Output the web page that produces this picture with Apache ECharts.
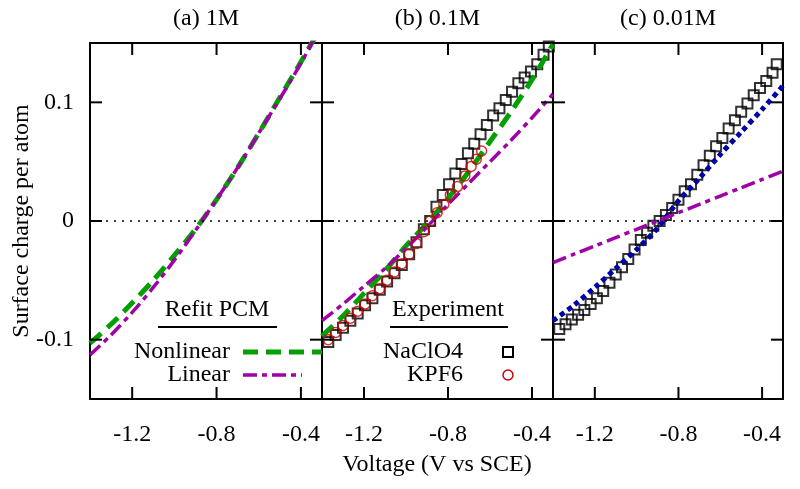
<!DOCTYPE html>
<html>
<head>
<meta charset="utf-8">
<script src="https://cdn.jsdelivr.net/npm/echarts@6/dist/echarts.min.js"></script>
<style>
  html, body { margin: 0; padding: 0; background: #fff; }
  #chart { width: 800px; height: 489px; }
</style>
</head>
<body>
<div id="chart"></div>
<script>
// panel titles and shared axis ticks
var panelTitles = ['(a) 1M', '(b) 0.1M', '(c) 0.01M'];
var xTicks = [-1.2, -0.8, -0.4];
var yTicks = [-0.1, 0, 0.1];
var xMin = -1.4, xMax = -0.3, yMin = -0.15, yMax = 0.15;

// model curves (voltage, charge)
var volts = [-1.4, -1.3, -1.2, -1.1, -1.0, -0.9, -0.8, -0.7, -0.6, -0.5, -0.4, -0.3];
var nonlinA = [-0.103, -0.087, -0.069, -0.050, -0.029, -0.007, 0.018, 0.045, 0.074, 0.104, 0.134, 0.165];
var linA    = [-0.113, -0.096, -0.077, -0.056, -0.033, -0.008, 0.018, 0.045, 0.074, 0.103, 0.133, 0.166];
var nonlinB = [-0.097, -0.080, -0.061, -0.042, -0.021, -0.002, 0.019, 0.042, 0.067, 0.092, 0.119, 0.149];
var linB    = [-0.084, -0.070, -0.055, -0.040, -0.023, -0.005, 0.014, 0.032, 0.050, 0.068, 0.087, 0.107];
var nonlinC = [-0.084, -0.071, -0.056, -0.040, -0.024, -0.006, 0.017, 0.036, 0.056, 0.075, 0.094, 0.114];
var linC    = [-0.035, -0.028, -0.021, -0.014, -0.007, 0.000, 0.007, 0.014, 0.021, 0.028, 0.035, 0.042];

// experiment, 0.1M NaClO4
var naB_v = [-1.37, -1.335, -1.30, -1.265, -1.23, -1.195, -1.16, -1.125, -1.09, -1.055, -1.02, -0.985,
             -0.95, -0.915, -0.885, -0.855, -0.825, -0.795, -0.765, -0.735, -0.705, -0.675, -0.645,
             -0.615, -0.585, -0.555, -0.525, -0.495, -0.465, -0.435, -0.405, -0.375, -0.345, -0.32];
var naB_q = [-0.102, -0.096, -0.090, -0.084, -0.078, -0.071, -0.065, -0.058, -0.051, -0.044, -0.037, -0.028,
             -0.018, -0.007, 0.000, 0.012, 0.022, 0.031, 0.040, 0.048, 0.057, 0.065, 0.073,
             0.081, 0.089, 0.095, 0.102, 0.109, 0.116, 0.121, 0.126, 0.132, 0.140, 0.147];
// experiment, 0.1M KPF6
var kB_v = [-1.37, -1.335, -1.30, -1.265, -1.23, -1.195, -1.16, -1.125, -1.09, -1.055, -1.02, -0.985,
            -0.95, -0.915, -0.885, -0.852, -0.82, -0.789, -0.755, -0.72, -0.69, -0.665, -0.64];
var kB_q = [-0.100, -0.094, -0.088, -0.082, -0.076, -0.070, -0.063, -0.057, -0.050, -0.043, -0.036, -0.028,
            -0.019, -0.009, 0.000, 0.007, 0.014, 0.022, 0.029, 0.038, 0.046, 0.052, 0.059];
// experiment, 0.01M NaClO4
var naC_v = [-1.37, -1.34, -1.31, -1.28, -1.25, -1.22, -1.19, -1.16, -1.13, -1.10, -1.07, -1.04, -1.01,
             -0.98, -0.95, -0.92, -0.89, -0.86, -0.83, -0.80, -0.77, -0.74, -0.71, -0.68, -0.65, -0.62,
             -0.59, -0.56, -0.53, -0.50, -0.47, -0.44, -0.41, -0.38, -0.35, -0.33];
var naC_q = [-0.091, -0.087, -0.083, -0.079, -0.075, -0.070, -0.065, -0.059, -0.052, -0.045, -0.039, -0.032, -0.024,
             -0.016, -0.010, -0.004, 0.000, 0.005, 0.011, 0.018, 0.025, 0.031, 0.039, 0.047, 0.055, 0.063,
             0.070, 0.078, 0.085, 0.092, 0.099, 0.106, 0.112, 0.118, 0.125, 0.132];

var GREEN = '#00a000', PURPLE = '#a000a8', BLUE = '#0000a8', RED = '#cc0000';
var FONT = 'Liberation Serif';
var FS = 24;
var TICK = 12; // tick length, px

function pairs(xs, ys) {
    return xs.map(function (x, i) { return [x, ys[i]]; });
}

var grids = [
    {left: 90, top: 43, width: 232, height: 356},
    {left: 322, top: 43, width: 231, height: 356},
    {left: 553, top: 43, width: 230, height: 356}
];

function axLine() { return {show: true, onZero: false, lineStyle: {color: '#000', width: 2}}; }

var xAxes = [], yAxes = [];
grids.forEach(function (g, i) {
    xAxes.push({
        type: 'value', gridIndex: i, position: 'bottom', min: xMin, max: xMax,
        axisLine: axLine(), axisTick: {show: false}, splitLine: {show: false},
        axisLabel: {customValues: xTicks, margin: 24, color: '#000', fontFamily: FONT, fontSize: FS}
    });
    xAxes.push({
        type: 'value', gridIndex: i, position: 'top', min: xMin, max: xMax,
        axisLine: axLine(), axisTick: {show: false}, splitLine: {show: false}, axisLabel: {show: false}
    });
    yAxes.push({
        type: 'value', gridIndex: i, position: 'left', min: yMin, max: yMax,
        axisLine: axLine(), axisTick: {show: false}, splitLine: {show: false},
        axisLabel: {show: i === 0, customValues: yTicks, margin: 16, color: '#000', fontFamily: FONT, fontSize: FS}
    });
    yAxes.push({
        type: 'value', gridIndex: i, position: 'right', min: yMin, max: yMax,
        axisLine: axLine(), axisTick: {show: false}, splitLine: {show: false}, axisLabel: {show: false}
    });
});

// inward tick marks on all four sides, as short line series on the panel's own scales
function tickSeries(gi) {
    var g = grids[gi];
    var dx = (xMax - xMin) * TICK / g.width;
    var dy = (yMax - yMin) * TICK / g.height;
    var segs = [];
    xTicks.forEach(function (v) {
        segs.push([[v, yMin], [v, yMin + dy]]);
        segs.push([[v, yMax], [v, yMax - dy]]);
    });
    yTicks.forEach(function (v) {
        segs.push([[xMin, v], [xMin + dx, v]]);
        segs.push([[xMax, v], [xMax - dx, v]]);
    });
    return segs.map(function (s) {
        return {
            name: 'tick', type: 'line', xAxisIndex: gi * 2, yAxisIndex: gi * 2,
            data: s, showSymbol: false, silent: true, clip: false, z: 5,
            lineStyle: {color: '#000', width: 2, type: 'solid', cap: 'butt'}
        };
    });
}

var zeroLine = {
    silent: true, symbol: 'none', label: {show: false},
    lineStyle: {color: '#000', type: [2, 6], width: 1.5},
    data: [{yAxis: 0}]
};

function lineSeries(name, gi, ys, color, width, dash) {
    return {
        name: name, type: 'line', xAxisIndex: gi * 2, yAxisIndex: gi * 2,
        data: pairs(volts, ys), showSymbol: false, smooth: 0.3, clip: true,
        lineStyle: {color: color, width: width, type: dash, cap: 'butt'}, z: 3
    };
}

var dashGreen = [15, 8];
var dashPurple = [14, 5, 5, 5];

var series = [
    Object.assign(lineSeries('Nonlinear', 0, nonlinA, GREEN, 5, dashGreen), {markLine: zeroLine}),
    lineSeries('Linear', 0, linA, PURPLE, 3.5, dashPurple),
    Object.assign(lineSeries('Nonlinear', 1, nonlinB, GREEN, 5, dashGreen), {markLine: zeroLine}),
    lineSeries('Linear', 1, linB, PURPLE, 3.5, dashPurple),
    {
        name: 'KPF6', type: 'scatter', xAxisIndex: 2, yAxisIndex: 2, data: pairs(kB_v, kB_q),
        symbol: 'circle', symbolSize: 10,
        itemStyle: {color: 'rgba(0,0,0,0)', borderColor: RED, borderWidth: 1.5}, z: 4
    },
    {
        name: 'NaClO4', type: 'scatter', xAxisIndex: 2, yAxisIndex: 2, data: pairs(naB_v, naB_q),
        symbol: 'rect', symbolSize: 10,
        itemStyle: {color: 'rgba(0,0,0,0)', borderColor: '#000', borderWidth: 2}, z: 2
    },
    Object.assign(lineSeries('Nonlinear', 2, nonlinC, BLUE, 5, [5, 4]), {markLine: zeroLine}),
    lineSeries('Linear', 2, linC, PURPLE, 3.5, dashPurple),
    {
        name: 'NaClO4', type: 'scatter', xAxisIndex: 4, yAxisIndex: 4, data: pairs(naC_v, naC_q),
        symbol: 'rect', symbolSize: 10,
        itemStyle: {color: 'rgba(0,0,0,0)', borderColor: '#000', borderWidth: 2}, z: 2
    }
].concat(tickSeries(0), tickSeries(1), tickSeries(2));

var txt = function (x, y, s, align, rot) {
    return {type: 'text', x: x, y: y, z: 10, rotation: rot || 0,
        style: {text: s, fill: '#000', font: FS + 'px "' + FONT + '"', align: align, verticalAlign: 'middle'}};
};
var seg = function (x1, x2, y, color, width, dash) {
    return {type: 'line', z: 10, shape: {x1: x1, y1: y, x2: x2, y2: y},
        style: {stroke: color, lineWidth: width, lineDash: dash || null}};
};

var graphics = [];
grids.forEach(function (g, i) {
    graphics.push(txt(g.left + g.width / 2, 19, panelTitles[i], 'center'));
});
graphics.push(
    // axis titles
    txt(437, 465, 'Voltage (V vs SCE)', 'center'),
    txt(22, 221, 'Surface charge per atom', 'center', Math.PI / 2),
    // legend, panel (a)
    txt(217, 310, 'Refit PCM', 'center'),
    seg(158, 277, 327, '#000', 2),
    txt(230, 352, 'Nonlinear', 'right'),
    seg(243, 322, 352, GREEN, 5, dashGreen),
    txt(230, 375, 'Linear', 'right'),
    seg(243, 302, 375, PURPLE, 3.5, dashPurple),
    // legend, panel (b)
    txt(448, 310, 'Experiment', 'center'),
    seg(390, 508, 327, '#000', 2),
    txt(463, 352, 'NaClO4', 'right'),
    {type: 'rect', z: 10, shape: {x: 503, y: 347, width: 10, height: 10},
        style: {fill: 'none', stroke: '#000', lineWidth: 2}},
    txt(463, 375, 'KPF6', 'right'),
    {type: 'circle', z: 10, shape: {cx: 508, cy: 375, r: 5},
        style: {fill: 'none', stroke: RED, lineWidth: 1.5}}
);

var chart = echarts.init(document.getElementById('chart'), null, {renderer: 'canvas'});
chart.setOption({
    animation: false,
    backgroundColor: '#fff',
    grid: grids,
    xAxis: xAxes,
    yAxis: yAxes,
    series: series,
    graphic: graphics
});
</script>
</body>
</html>
